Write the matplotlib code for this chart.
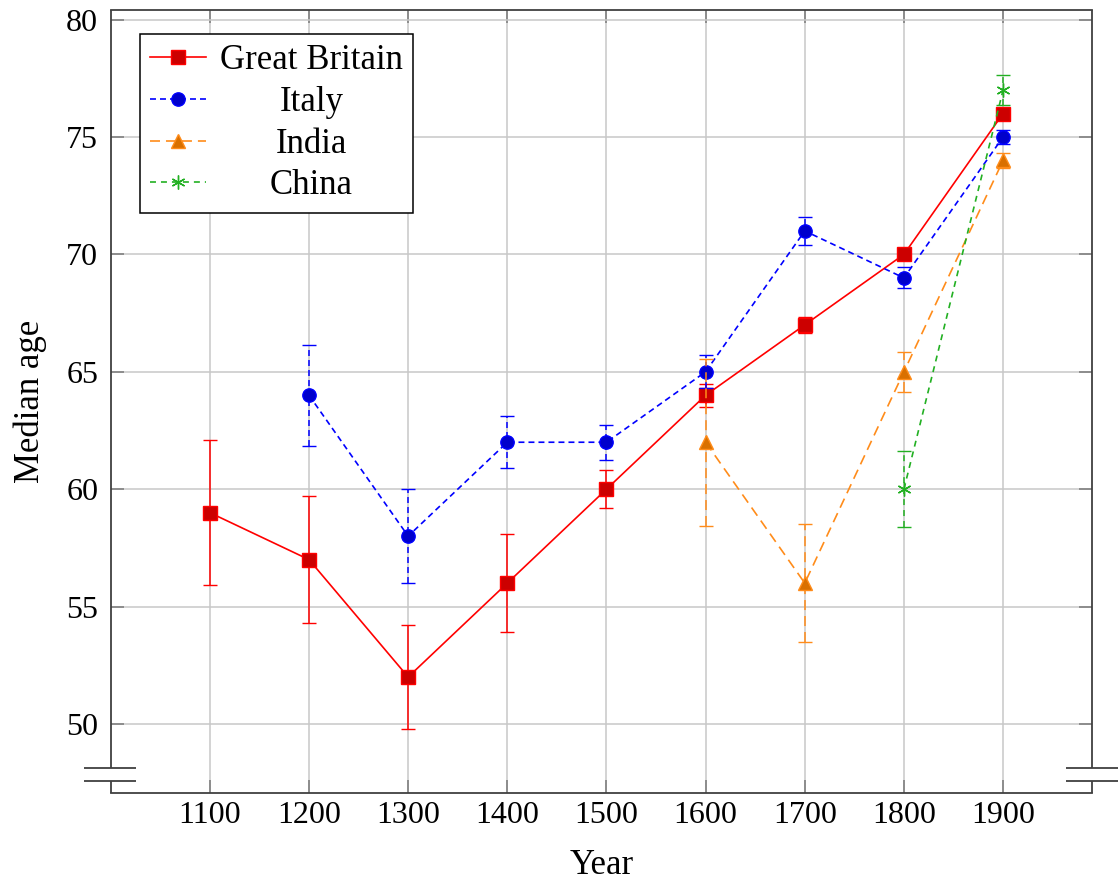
import matplotlib
matplotlib.use('Agg')
import matplotlib.pyplot as plt

# ---------------------------------------------------------------------------
# data
# ---------------------------------------------------------------------------
gb_years = [1100, 1200, 1300, 1400, 1500, 1600, 1700, 1800, 1900]
gb_age   = [59, 57, 52, 56, 60, 64, 67, 70, 76]
gb_err   = [3.1, 2.7, 2.2, 2.1, 0.8, 0.5, 0.35, 0.2, 0.2]

it_years = [1200, 1300, 1400, 1500, 1600, 1700, 1800, 1900]
it_age   = [64, 58, 62, 62, 65, 71, 69, 75]
it_err   = [2.15, 2.0, 1.1, 0.75, 0.7, 0.6, 0.45, 0.3]

in_years = [1600, 1700, 1800, 1900]
in_age   = [62, 56, 65, 74]
in_err   = [3.55, 2.5, 0.85, 0.3]

cn_years = [1800, 1900]
cn_age   = [60, 77]
cn_err   = [1.63, 0.65]

x_ticks = [1100, 1200, 1300, 1400, 1500, 1600, 1700, 1800, 1900]
y_ticks = [50, 55, 60, 65, 70, 75, 80]

# ---------------------------------------------------------------------------
# style
# ---------------------------------------------------------------------------
plt.rcParams['font.family'] = ['Liberation Serif', 'DejaVu Serif']
plt.rcParams['lines.scale_dashes'] = False
FS_TICK = 23
FS_TEXT = 25
AX_COL = '#404040'
TICK_COL = '#808080'
GRID_COL = '#c8c8c8'

W, H = 1119, 880
fig = plt.figure(figsize=(W / 100, H / 100), dpi=100)
ax = fig.add_axes([110.7 / W, 87 / H, 981.6 / W, 783 / H])


def series(x, y, err, color, face, marker, ms, dashes, z):
    eb = ax.errorbar(x, y, yerr=err, color=color, lw=1.2, marker=marker,
                     ms=ms, mfc=face, mec=color, mew=1.0,
                     ecolor=color, elinewidth=1.1, capsize=4.7, capthick=1.1,
                     zorder=z)
    line = eb[0]
    if dashes is not None:
        line.set_dashes(dashes)
        for lc in eb[2]:
            lc.set_linestyle((0, dashes))
    return line


h_gb = series(gb_years, gb_age, gb_err, '#ff0000', '#cc0000', 's', 9.4, None, 3)
h_it = series(it_years, it_age, it_err, '#0000ff', '#0000cc', 'o', 9.6, (4.3, 2.9), 4)
h_in = series(in_years, in_age, in_err, '#ff8c1a', '#d97000', '^', 9.5, (7.2, 4.3), 5)
h_cn = series(cn_years, cn_age, cn_err, '#22b022', '#119911', (6, 2, 0), 10, (4.3, 3.6), 6)

ax.set_xlim(1000, 1990)
ax.set_ylim(47.06, 80.41)
ax.set_xticks(x_ticks)
ax.set_yticks(y_ticks)
ax.set_axisbelow(True)
ax.grid(True, color=GRID_COL, lw=1.1)

ax.tick_params(axis='both', which='major', direction='in', length=9.4,
               width=1.2, color=TICK_COL, labelsize=FS_TICK,
               top=True, right=True, bottom=True, left=True)
ax.tick_params(axis='x', pad=6)
ax.tick_params(axis='y', pad=9)

ax.set_xlabel('Year', fontsize=FS_TEXT, labelpad=13.5)
ax.set_ylabel('Median age', fontsize=FS_TEXT, labelpad=14)

# spines with a "crunch" break at the bottom of the y axis
for side in ['top', 'bottom']:
    ax.spines[side].set_color(AX_COL)
    ax.spines[side].set_linewidth(1.3)
for side in ['left', 'right']:
    ax.spines[side].set_visible(False)

brk_hi, brk_lo = 0.0323, 0.0157
for xs, x0, x1 in [(0.0, -0.0272, 0.0258), (1.0, 0.9733, 1.0262)]:
    kw = dict(transform=ax.transAxes, color=AX_COL, lw=1.3, clip_on=False,
              solid_capstyle='butt')
    ax.plot([xs, xs], [brk_hi, 1.0], **kw)
    ax.plot([xs, xs], [0.0, brk_lo], **kw)
    ax.plot([x0, x1], [brk_hi, brk_hi], **kw)
    ax.plot([x0, x1], [brk_lo, brk_lo], **kw)

# legend (entries centred like pgfplots)
leg = ax.legend([h_gb, h_it, h_in, h_cn],
                ['Great Britain', 'Italy', 'India', 'China'],
                loc='upper left', bbox_to_anchor=(0.0299, 0.9693),
                borderaxespad=0, fontsize=FS_TEXT, numpoints=1,
                handlelength=1.6, handletextpad=0.4, labelspacing=0.25,
                borderpad=0.3, fancybox=False, framealpha=1,
                edgecolor='black')
leg.get_frame().set_linewidth(1.1)
leg.set_zorder(10)

fig.canvas.draw()
texts = leg.get_texts()
widths = [t.get_window_extent().width for t in texts]
wmax = max(widths)
for t, w in zip(texts, widths):
    t.set_x((wmax - w) / 2)

fig.savefig('out.png', dpi=100)
